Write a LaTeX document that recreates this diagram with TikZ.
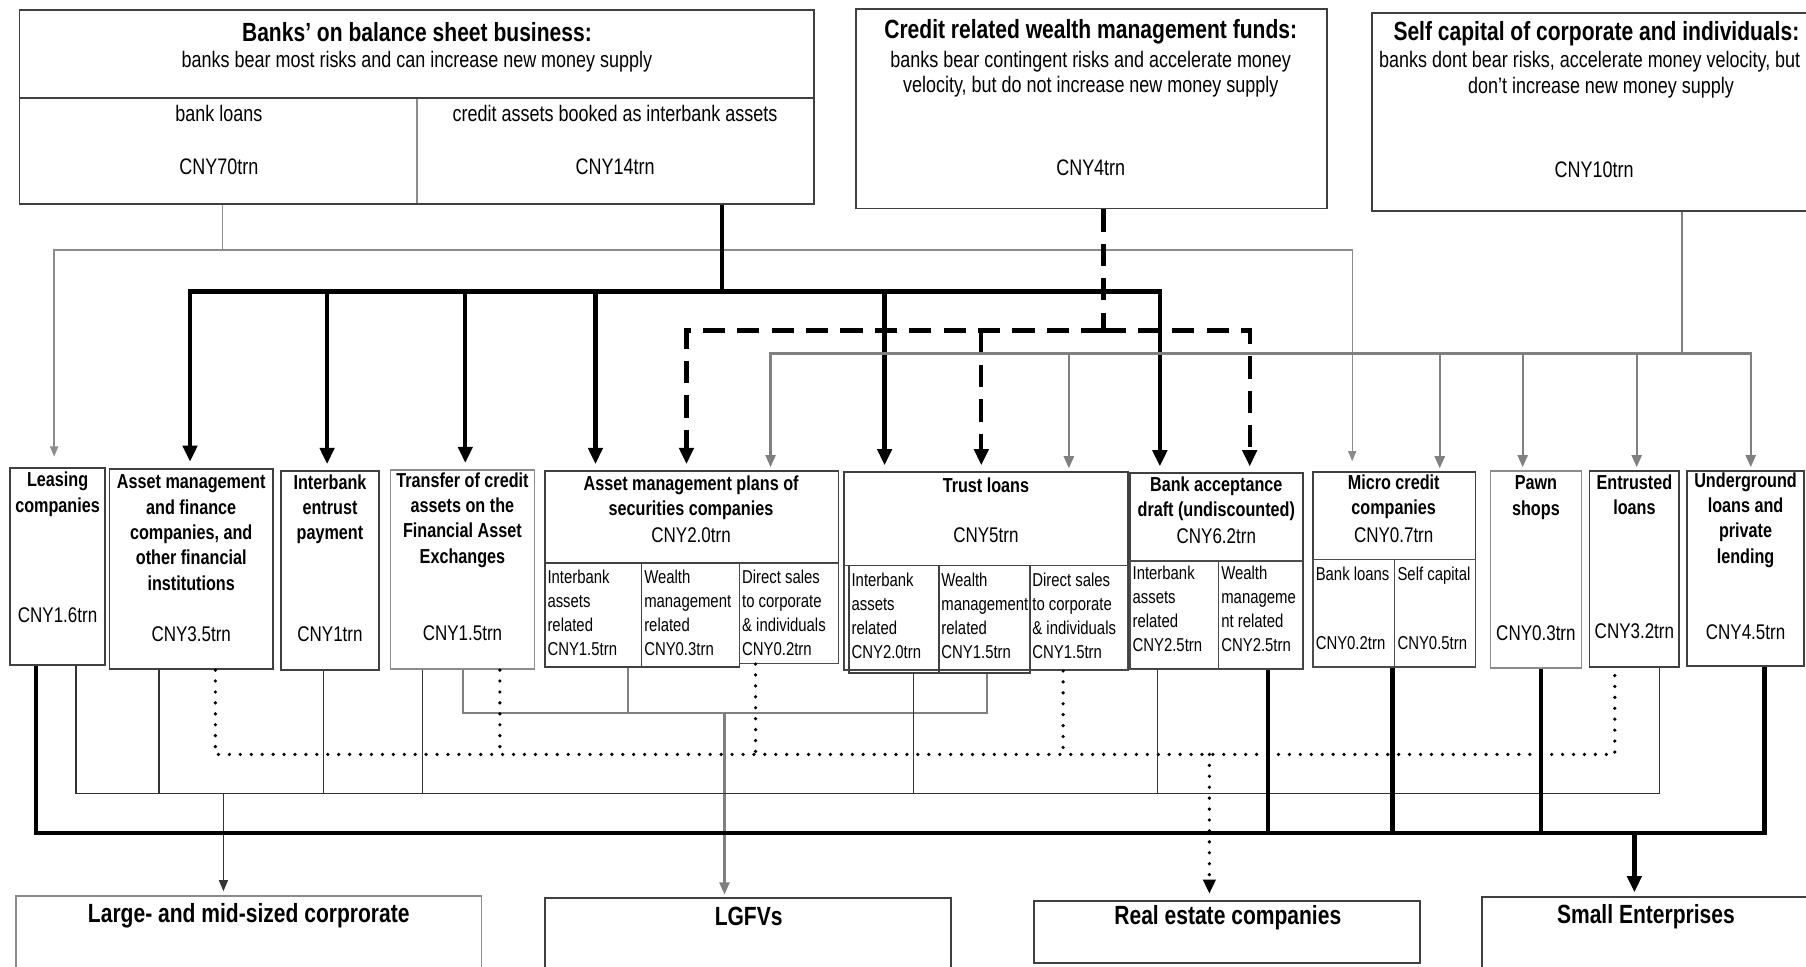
\documentclass[tikz,border=0pt]{standalone}
\usepackage{fontspec}
\setmainfont[FakeStretch=0.8]{Liberation Sans}
\usetikzlibrary{arrows.meta,fit}

\begin{document}
\begin{tikzpicture}[
    x=0.02cm, y=-0.02cm,
    >={Triangle[length=8pt,width=7pt]},
    box/.style      = {draw=black!75, line width=0.9pt, inner sep=0pt},
    lightbox/.style = {draw=black!45, line width=0.9pt, inner sep=0pt},
    cell/.style     = {draw=black!70, line width=0.6pt, inner sep=0pt},
    toptitle/.style = {font=\bfseries\fontsize{13}{15}\selectfont, inner sep=0pt},
    topsub/.style   = {font=\fontsize{11.1}{12.4}\selectfont, align=center, inner sep=0pt},
    midtitle/.style = {font=\bfseries\fontsize{10}{12.5}\selectfont, align=center, inner sep=0pt},
    amount/.style   = {font=\fontsize{10.5}{12}\selectfont, inner sep=0pt},
    subtext/.style  = {font=\fontsize{9.2}{11.9}\selectfont, align=left, anchor=west, inner sep=0pt},
    bottitle/.style = {font=\bfseries\fontsize{13}{15}\selectfont, inner sep=0pt},
    thickline/.style = {line width=2.1pt, black},
    dashline/.style  = {line width=2.1pt, black, dash pattern=on 11pt off 6pt},
    grayline/.style  = {line width=1.1pt, black!50, >={Triangle[length=6pt,width=5pt]}},
    thinline/.style  = {line width=0.7pt, black!45, >={Triangle[length=5pt,width=4pt]}},
    darkline/.style  = {line width=0.7pt, black!80, >={Triangle[length=5.5pt,width=4.5pt]}},
    dotline/.style   = {line width=1.8pt, black, line cap=round, dash pattern=on 0pt off 5.4pt,
                        >={Triangle[length=7pt,width=6pt]}},
    tip/.style       = {->, shorten >=#1},
  ]
\useasboundingbox (0,0) rectangle (1568,839);
\clip (0,0) rectangle (1568,839);
\fill[white] (0,0) rectangle (1568,839);

% top row
\node[lightbox, fit={(17,85) (362,177)}] (loans) {};
\node[lightbox, fit={(362,85) (707,177)}] (ibassets) {};
\node[box, fit={(17,9) (707,85)}] (banksT) {};
\node[box, fit={(17,9) (707,177)}] (banks) {};
\node[toptitle] (banksTitle) at (362,27.5) {Banks' on balance sheet business:};
\node[topsub] (banksSub) at (362,53.6) {banks bear most risks and can increase new money supply};
\node[topsub] (loansT) at (190,98.4) {bank loans};
\node[topsub] (loansV) at (190,144.7) {CNY70trn};
\node[topsub] (ibT) at (534,98.4) {credit assets booked as interbank assets};
\node[topsub] (ibV) at (534,144.7) {CNY14trn};

\node[box, fit={(743,8) (1152,181)}] (wmf) {};
\node[toptitle] (wmfTitle) at (947,27.5) {Credit related wealth management funds:};
\node[topsub] (wmfSub) at (947,64.4) {banks bear contingent risks and accelerate money\\velocity, but do not increase new money supply};
\node[topsub] (wmfV) at (947,146) {CNY4trn};

\node[box, fit={(1191,11) (1582,183)}] (self) {};
\node[toptitle] (selfTitle) at (1386,29) {Self capital of corporate and individuals:};
\node[topsub, anchor=west] (selfSubA) at (1197,53.6) {banks dont bear risks, accelerate money velocity, but};
\node[topsub] (selfSubB) at (1390,75.8) {don't increase new money supply};
\node[topsub] (selfV) at (1384,147.6) {CNY10trn};

% middle row
\node[box, fit={(9,406) (91,577)}] (lease) {};
\node[midtitle] (leaseT) at (50,429) {Leasing\\companies};
\node[amount] (leaseV) at (50,534) {CNY1.6trn};

\node[box, fit={(95,407) (237,581)}] (amfc) {};
\node[midtitle] (amfcT) at (166,462.5) {Asset management\\and finance\\companies, and\\other financial\\institutions};
\node[amount] (amfcV) at (166,551) {CNY3.5trn};

\node[box, fit={(244,409) (329,582)}] (ibe) {};
\node[midtitle] (ibeT) at (286.5,442) {Interbank\\entrust\\payment};
\node[amount] (ibeV) at (286.5,551) {CNY1trn};

\node[lightbox, fit={(339,408) (464,581)}] (tca) {};
\node[midtitle] (tcaT) at (401.5,451.5) {Transfer of credit\\assets on the\\Financial Asset\\Exchanges};
\node[amount] (tcaV) at (401.5,550) {CNY1.5trn};

\node[box, fit={(473,409) (728,489)}] (amp) {};
\node[box, fit={(473,489) (557,579)}] (ampA) {};
\node[box, fit={(557,489) (642,579)}] (ampB) {};
\node[cell, fit={(642,489) (728,576)}] (ampC) {};
\node[midtitle] (ampT) at (600,432) {Asset management plans of\\securities companies};
\node[amount] (ampV) at (600,465) {CNY2.0trn};
\node[subtext] (ampAT) at (475,532) {Interbank\\assets\\related\\CNY1.5trn};
\node[subtext] (ampBT) at (559,532) {Wealth\\management\\related\\CNY0.3trn};
\node[subtext] (ampCT) at (644,532) {Direct sales\\to corporate\\\& individuals\\CNY0.2trn};

\node[box, fit={(733,410) (979,582)}] (trust) {};
\node[cell, fit={(733,491) (979,582)}] (trustS) {};
\node[box, fit={(737,491) (815,584)}] (trA) {};
\node[box, fit={(815,491) (894,584)}] (trB) {};
\node[cell, fit={(894,491) (979,582)}] (trC) {};
\node[midtitle] (trustT) at (856,421) {Trust loans};
\node[amount] (trustV) at (856,465) {CNY5trn};
\node[subtext] (trAT) at (739,535) {Interbank\\assets\\related\\CNY2.0trn};
\node[subtext] (trBT) at (817,535) {Wealth\\management\\related\\CNY1.5trn};
\node[subtext] (trCT) at (896,535) {Direct sales\\to corporate\\\& individuals\\CNY1.5trn};

\node[box, fit={(981,411) (1131,581)}] (bad) {};
\node[cell, fit={(981,487) (1058,581)}] (badA) {};
\node[cell, fit={(1058,487) (1131,581)}] (badB) {};
\node[midtitle] (badT) at (1056,433) {Bank acceptance\\draft (undiscounted)};
\node[amount] (badV) at (1056,465.4) {CNY6.2trn};
\node[subtext] (badAT) at (983,528.5) {Interbank\\assets\\related\\CNY2.5trn};
\node[subtext] (badBT) at (1060,528.5) {Wealth\\manageme\\nt related\\CNY2.5trn};

\node[box, fit={(1140,410) (1281,579)}] (mcc) {};
\node[cell, fit={(1140,486) (1211,579)}] (mccA) {};
\node[cell, fit={(1211,486) (1281,579)}] (mccB) {};
\node[midtitle] (mccT) at (1210,431) {Micro credit\\companies};
\node[amount] (mccV) at (1210,464.6) {CNY0.7trn};
\node[subtext] (mccAT) at (1142,528) {Bank loans\\[22pt]CNY0.2trn};
\node[subtext] (mccBT) at (1213,528) {Self capital\\[22pt]CNY0.5trn};

\node[lightbox, fit={(1294,409) (1373,580)}] (pawn) {};
\node[midtitle] (pawnT) at (1333.5,432) {Pawn\\shops};
\node[amount] (pawnV) at (1333.5,550) {CNY0.3trn};

\node[box, fit={(1380,409) (1458,579)}] (entl) {};
\node[midtitle] (entlT) at (1419,429.5) {Entrusted\\loans};
\node[amount] (entlV) at (1419,548) {CNY3.2trn};

\node[box, fit={(1465,409) (1566,578)}] (ugl) {};
\node[midtitle] (uglT) at (1515.5,451.5) {Underground\\loans and\\private\\lending};
\node[amount] (uglV) at (1515.5,549) {CNY4.5trn};

% bottom row
\node[lightbox, fit={(14,778) (418,870)}] (lmc) {};
\node[bottitle] (lmcT) at (216,795) {Large- and mid-sized corprorate};
\node[box, fit={(473,780) (826,870)}] (lgfv) {};
\node[bottitle] (lgfvT) at (650,796) {LGFVs};
\node[box, fit={(898,782) (1233,836)}] (rec) {};
\node[bottitle] (recT) at (1066,797) {Real estate companies};
\node[box, fit={(1287,779) (1580,870)}] (sme) {};
\node[bottitle] (smeT) at (1429,796) {Small Enterprises};

% bank loans -> leasing, micro credit
\coordinate (tgJ) at (193,217);
\coordinate (tgL) at (47,217);
\coordinate (tgR) at (1174,217);
\draw[thinline] (banks.south -| tgJ) -- (tgJ);
\draw[thinline,tip=5pt] (tgJ) -- (tgL) -- (tgL |- lease.north);
\draw[thinline,tip=5pt] (tgJ) -- (tgR) -- (tgR |- mcc.north);

% interbank assets
\coordinate (kJ) at (627,253);
\coordinate (kL) at (165,253);
\coordinate (kR) at (1007,253);
\draw[thickline] (banks.south -| kJ) -- (kJ);
\draw[thickline,tip=3pt] (kJ) -- (kL) -- (kL |- amfc.north);
\draw[thickline,tip=3pt] (kJ) -- (kR) -- (kR |- bad.north);
\foreach \x/\n in {284/ibe, 404/tca, 517/amp, 768/trust} {
    \coordinate (k) at (\x,253);
    \draw[thickline,tip=3pt] (k) -- (k |- \n.north);
}

% wealth management funds
\coordinate (dJ) at (958,287);
\coordinate (dL) at (596,287);
\coordinate (dM) at (852,287);
\coordinate (dR) at (1085,287);
\draw[dashline] (wmf.south -| dJ) -- (dJ);
\draw[dashline,tip=3pt] (dJ) -- (dL) -- (dL |- amp.north);
\draw[dashline,tip=3pt] (dJ) -- (dR) -- (dR |- bad.north);
\draw[dashline,tip=3pt] (dM) -- (dM |- trust.north);

% self capital
\coordinate (gJ) at (1460,307);
\coordinate (gL) at (669,307);
\coordinate (gR) at (1520,307);
\draw[grayline] (self.south -| gJ) -- (gJ);
\draw[grayline,tip=1.5pt] (gJ) -- (gL) -- (gL |- amp.north);
\draw[grayline,tip=1.5pt] (gJ) -- (gR) -- (gR |- ugl.north);
\foreach \x/\n in {928/trust, 1250/mcc, 1322/pawn, 1421/entl} {
    \coordinate (g) at (\x,307);
    \draw[grayline,tip=1.5pt] (g) -- (g |- \n.north);
}

% to LGFVs
\coordinate (lL) at (402,619);
\coordinate (lR) at (857,619);
\coordinate (lM) at (545,619);
\coordinate (lA) at (629,619);
\draw[grayline] (tca.south -| lL) -- (lL) -- (lR) -- (trB.south -| lR);
\draw[grayline] (ampA.south -| lM) -- (lM);
\draw[grayline,tip=1.5pt] (lA) -- (lA |- lgfv.north);

% to real estate
\coordinate (oL) at (187,655);
\coordinate (oR) at (1402,655);
\coordinate (oA) at (1050,655);
\draw[dotline] (amfc.south -| oL) -- (oL) -- (oR) -- (entl.south -| oR);
\foreach \x/\n in {434/tca, 656/ampC, 923/trC} {
    \coordinate (o) at (\x,655);
    \draw[dotline] (\n.south -| o) -- (o);
}
\draw[dotline,tip=3pt] (oA) -- (oA |- rec.north);

% to large and mid-sized corporate
\coordinate (nL) at (66,689);
\coordinate (nR) at (1441,689);
\coordinate (nA) at (194,689);
\draw[darkline] (lease.south -| nL) -- (nL) -- (nR) -- (entl.south -| nR);
\foreach \x/\n in {138/amfc, 281/ibe, 367/tca, 793/trA, 1005/badA} {
    \coordinate (n) at (\x,689);
    \draw[darkline] (\n.south -| n) -- (n);
}
\draw[darkline,tip=2pt] (nA) -- (nA |- lmc.north);

% to small enterprises
\coordinate (bL) at (31,723);
\coordinate (bR) at (1532,723);
\coordinate (bS) at (1419,723);
\draw[thickline] (lease.south -| bL) -- (bL) -- (bR) -- (ugl.south -| bR);
\foreach \x/\n in {1101/badB, 1209/mcc, 1338/pawn} {
    \coordinate (b) at (\x,723);
    \draw[thickline] (\n.south -| b) -- (b);
}
\draw[thickline,tip=2pt] (bS) -- (bS |- sme.north);

\end{tikzpicture}
\end{document}
